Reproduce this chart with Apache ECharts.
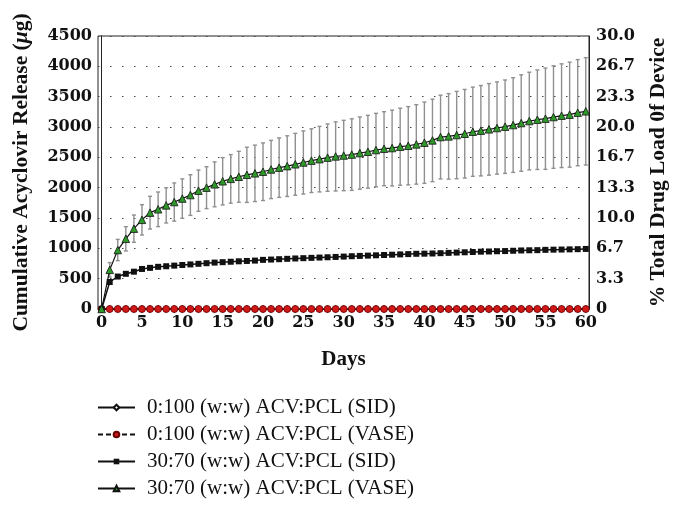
<!DOCTYPE html>
<html>
<head>
<meta charset="utf-8">
<script src="https://cdn.jsdelivr.net/npm/echarts@6/dist/echarts.min.js"></script>
<style>
  html, body { margin: 0; padding: 0; background: #fff; }
  #chart { width: 682px; height: 510px; }
</style>
</head>
<body>
<div id="chart"></div>
<script>
// ---- Data ----
const days = [0,1,2,3,4,5,6,7,8,9,10,11,12,13,14,15,16,17,18,19,20,21,22,23,24,25,26,27,28,29,30,
  31,32,33,34,35,36,37,38,39,40,41,42,43,44,45,46,47,48,49,50,51,52,53,54,55,56,57,58,59,60];

const pcl0Sid = [0,0,0,0,0,0,0,0,0,0,0,0,0,0,0,0,0,0,0,0,0,0,0,0,0,0,0,0,0,0,0,
  0,0,0,0,0,0,0,0,0,0,0,0,0,0,0,0,0,0,0,0,0,0,0,0,0,0,0,0,0,0];

const pcl0Vase = [0,0,0,0,0,0,0,0,0,0,0,0,0,0,0,0,0,0,0,0,0,0,0,0,0,0,0,0,0,0,0,
  0,0,0,0,0,0,0,0,0,0,0,0,0,0,0,0,0,0,0,0,0,0,0,0,0,0,0,0,0,0];

const acv30Sid = [0,445,535,580,615,660,678,695,705,715,725,
  735,745,755,765,772,779,786,792,798,810,
  815,821,827,833,838,843,848,853,858,864,
  870,875,880,885,890,895,900,905,910,912,
  915,920,925,930,935,940,945,948,952,955,
  960,965,968,970,975,978,980,983,986,990];

const acv30Vase = [0,645,972,1157,1324,1470,1588,1643,1708,1763,1820,
  1878,1950,2000,2055,2105,2145,2180,2212,2236,2263,
  2300,2330,2355,2385,2415,2445,2470,2495,2515,2530,
  2545,2570,2592,2620,2642,2653,2675,2691,2713,2741,
  2779,2834,2845,2867,2889,2922,2939,2961,2983,3005,
  3032,3065,3098,3120,3137,3164,3186,3203,3236,3258];

const acv30VaseErr = [0,120,175,200,225,250,270,285,290,315,325,
  335,340,345,370,390,400,420,455,465,475,
  480,490,500,510,520,525,540,555,570,580,
  590,595,600,605,610,625,635,645,655,670,
  680,690,705,720,730,735,745,755,760,770,
  780,795,805,820,835,845,855,865,875,885];

const xTicks = [0,5,10,15,20,25,30,35,40,45,50,55,60];
const leftTicks = [0,500,1000,1500,2000,2500,3000,3500,4000,4500];
const rightTicks = ['0','3.3','6.7','10.0','13.3','16.7','20.0','23.3','26.7','30.0'];

const seriesNames = [
  '0:100 (w:w) ACV:PCL (SID)',
  '0:100 (w:w) ACV:PCL (VASE)',
  '30:70 (w:w) ACV:PCL (SID)',
  '30:70 (w:w) ACV:PCL (VASE)'
];

// ---- Build ----
const ff = '"Liberation Serif", "Times New Roman", serif';
const tf = '"DejaVu Serif", "Liberation Serif", serif';
const pair = (ys) => days.map((d, i) => [d, ys[i]]);
const errData = days.map((d, i) => [d, acv30Vase[i] - acv30VaseErr[i], acv30Vase[i] + acv30VaseErr[i]]);
const tickStyle = { fontFamily: tf, fontWeight: 'bold', fontSize: 16, color: '#111' };

const chart = echarts.init(document.getElementById('chart'), null, { renderer: 'canvas' });

const option = {
  animation: false,
  backgroundColor: '#ffffff',
  grid: { left: 98, right: 93, top: 36, bottom: 201, show: true, borderColor: '#222', borderWidth: 1, backgroundColor: 'transparent' },
  legend: {
    data: seriesNames,
    orient: 'vertical',
    left: 92,
    top: 392,
    itemWidth: 37,
    itemHeight: 7,
    itemGap: 6,
    textStyle: { fontFamily: ff, fontSize: 21, color: '#111', lineHeight: 21, padding: [0, 0, 0, 7] }
  },
  xAxis: {
    type: 'value', min: -0.45, max: 60.4,
    name: 'Days', nameLocation: 'middle', nameGap: 40,
    nameTextStyle: { fontFamily: ff, fontWeight: 'bold', fontSize: 21, color: '#111' },
    axisLine: { show: true, lineStyle: { color: '#222', width: 1 } },
    axisTick: { show: false },
    splitLine: { show: false },
    axisLabel: Object.assign({ customValues: xTicks, margin: 6, formatter: (v) => String(v) }, tickStyle)
  },
  yAxis: [
    {
      type: 'value', min: 0, max: 4500, interval: 500,
      name: 'Cumulative Acyclovir Release ({it|μ}g)', nameLocation: 'middle', nameGap: 66,
      nameTextStyle: { fontFamily: ff, fontWeight: 'bold', fontSize: 21.5, color: '#111',
        rich: { it: { fontFamily: ff, fontWeight: 'bold', fontStyle: 'italic', fontSize: 21.5, color: '#111' } } },
      axisLine: { show: true, lineStyle: { color: '#222', width: 1 } },
      axisTick: { show: false },
      splitLine: { show: true, lineStyle: { color: '#444', width: 1.2, type: [1.5, 10.5] } },
      axisLabel: Object.assign({ customValues: leftTicks, margin: 6, formatter: (v) => String(v) }, tickStyle)
    },
    {
      type: 'value', min: 0, max: 30, interval: 10 / 3, position: 'right',
      name: '% Total Drug Load 0f Device', nameLocation: 'middle', nameGap: 58,
      nameTextStyle: { fontFamily: ff, fontWeight: 'bold', fontSize: 21.5, color: '#111' },
      axisLine: { show: true, lineStyle: { color: '#222', width: 1 } },
      axisTick: { show: false },
      splitLine: { show: false },
      axisLabel: Object.assign({ margin: 7, formatter: (v) => rightTicks[Math.round(v / (10 / 3))] }, tickStyle)
    }
  ],
  series: [
    {
      type: 'custom', name: 'err', z: 1, silent: true,
      data: errData,
      encode: { x: 0, y: [1, 2] },
      renderItem: function (params, api) {
        const x = api.value(0), lo = api.value(1), hi = api.value(2);
        const t = api.coord([x, hi]);
        const b = api.coord([x, lo]);
        const hw = 2;
        const style = { stroke: '#8f8f8f', lineWidth: 1.4 };
        return {
          type: 'group',
          children: [
            { type: 'line', shape: { x1: t[0], y1: t[1], x2: b[0], y2: b[1] }, style: style },
            { type: 'line', shape: { x1: t[0] - hw, y1: t[1], x2: t[0] + hw, y2: t[1] }, style: style },
            { type: 'line', shape: { x1: b[0] - hw, y1: b[1], x2: b[0] + hw, y2: b[1] }, style: style }
          ]
        };
      }
    },
    {
      name: seriesNames[0], type: 'line', data: pair(pcl0Sid), z: 2,
      symbol: 'diamond', symbolSize: 7, showAllSymbol: true,
      lineStyle: { color: '#111', width: 1.2 },
      itemStyle: { color: '#ffffff', borderColor: '#111', borderWidth: 1 }
    },
    {
      name: seriesNames[1], type: 'line', data: pair(pcl0Vase), z: 3,
      symbol: 'circle', symbolSize: 7, showAllSymbol: true,
      lineStyle: { color: '#111', width: 1.5, type: [5, 3] },
      itemStyle: { color: '#d01818', borderColor: '#6a0000', borderWidth: 0.8 }
    },
    {
      name: seriesNames[2], type: 'line', data: pair(acv30Sid), z: 4,
      symbol: 'rect', symbolSize: 6, showAllSymbol: true,
      lineStyle: { color: '#111', width: 1.5 },
      itemStyle: { color: '#111', borderColor: '#111', borderWidth: 0 }
    },
    {
      name: seriesNames[3], type: 'line', data: pair(acv30Vase), z: 5,
      symbol: 'triangle', symbolSize: 7.5, showAllSymbol: true,
      lineStyle: { color: '#111', width: 1.2 },
      itemStyle: { color: '#2f9a2a', borderColor: '#111', borderWidth: 0.8 }
    }
  ]
};
chart.setOption(option);
</script>
</body>
</html>
